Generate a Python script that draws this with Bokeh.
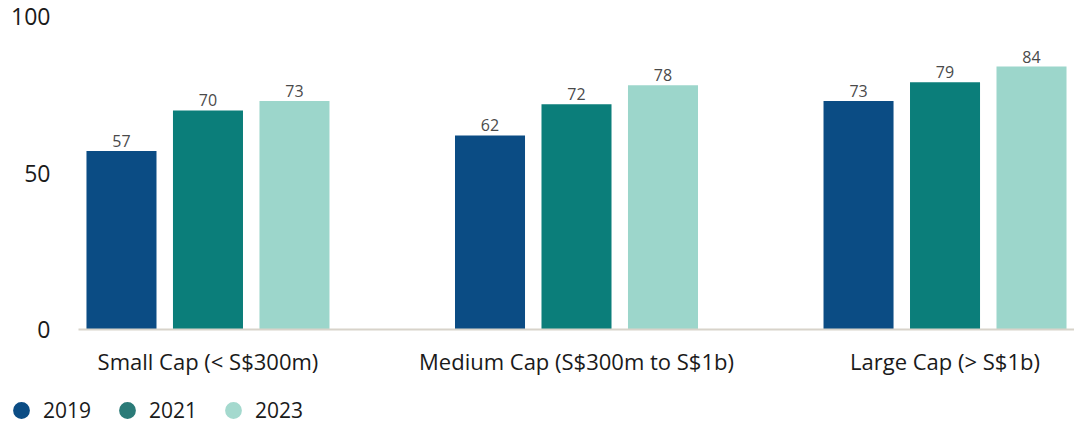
from bokeh.plotting import figure
from bokeh.layouts import column, row
from bokeh.models import (ColumnDataSource, FactorRange, Range1d, Legend, LegendItem, FixedTicker)
from bokeh.transform import dodge
from bokeh.core.properties import value
from bokeh.embed import file_html
from bokeh.resources import INLINE

caps = ["Small Cap (< S$300m)", "Medium Cap (S$300m to S$1b)", "Large Cap (> S$1b)"]
years = ["2019", "2021", "2023"]
v2019 = [57, 62, 73]
v2021 = [70, 72, 79]
v2023 = [73, 78, 84]
yticks = [0, 50, 100]

colors = ["#0B4C84", "#0B7E7A", "#9CD6CB"]
legend_colors = ["#0B4C84", "#2B7B78", "#A4D9CE"]
FONT = "Open Sans"

src = ColumnDataSource(dict(
    cap=caps,
    v2019=v2019, v2021=v2021, v2023=v2023,
    t2019=[str(v) for v in v2019],
    t2021=[str(v) for v in v2021],
    t2023=[str(v) for v in v2023],
))

p = figure(
    x_range=FactorRange(*caps, range_padding=-0.0991),
    y_range=Range1d(0, 100),
    width=1074, height=385,
    output_backend="svg", toolbar_location=None,
    min_border_left=78, min_border_right=0, min_border_top=16, min_border_bottom=56,
)

offsets = [-0.2347, 0.0, 0.2347]
bar_w = 0.19
for yr, off, col in zip(years, offsets, colors):
    p.vbar(x=dodge("cap", off, range=p.x_range), top="v" + yr, width=bar_w,
           source=src, color=col, line_color=None)
    p.text(x=dodge("cap", off, range=p.x_range), y="v" + yr, text="t" + yr, source=src,
           text_align="center", text_baseline="bottom", y_offset=-4,
           text_font=value(FONT), text_font_size="16px", text_color="#4a4a4a")

p.xgrid.visible = False
p.ygrid.visible = False
p.outline_line_color = None

ya = p.yaxis[0]
ya.ticker = FixedTicker(ticks=yticks)
ya.axis_line_color = None
ya.major_tick_line_color = None
ya.minor_tick_line_color = None
ya.major_label_standoff = 22
ya.major_label_text_font = FONT
ya.major_label_text_font_size = "23px"
ya.major_label_text_color = "#1a1a1a"

ax = p.xaxis[0]
ax.axis_line_color = "#D8D3CA"
ax.axis_line_width = 2
ax.major_tick_line_color = None
ax.minor_tick_line_color = None
ax.major_label_standoff = 10
ax.major_label_text_font = FONT
ax.major_label_text_font_size = "22px"
ax.major_label_text_color = "#1a1a1a"

# legend strip (own small figure, no axes)
lg = figure(width=1074, height=40, x_range=p.x_range, y_range=Range1d(0, 100),
            x_axis_location=None, y_axis_location=None,
            output_backend="svg", toolbar_location=None,
            min_border_left=0, min_border_right=0, min_border_top=0, min_border_bottom=0)
lg.grid.visible = False
lg.outline_line_color = None
items = []
for yr, off, lcol in zip(years, offsets, legend_colors):
    # zero-size markers: they only give the legend its round swatch
    r = lg.scatter(x=dodge("cap", off, range=p.x_range), y="v" + yr, source=src,
                   marker="circle", size=0, fill_color=lcol, line_color=None)
    items.append(LegendItem(label=yr, renderers=[r]))
legend = Legend(items=items, orientation="horizontal", location=(0, -6),
                label_text_font=FONT, label_text_font_size="21px", label_text_color="#1a1a1a",
                glyph_width=42, glyph_height=42, label_standoff=1, spacing=15,
                padding=0, margin=0, border_line_color=None, background_fill_alpha=0)
lg.add_layout(legend)

open("out.html", "w").write(file_html(column(p, row(lg), spacing=0), INLINE))
